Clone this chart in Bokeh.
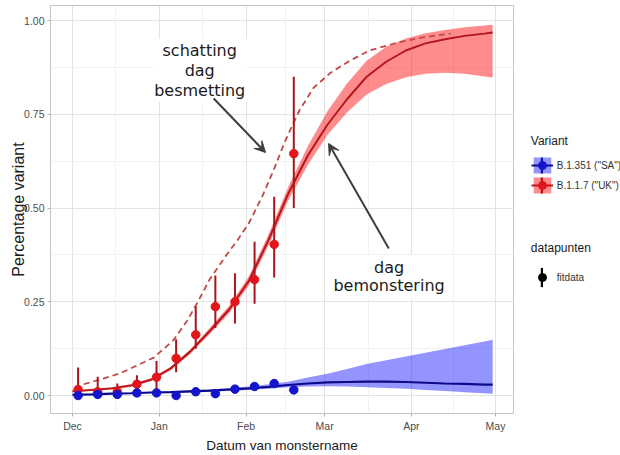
import numpy as np
import pandas as pd
from bokeh.plotting import figure
from bokeh.layouts import row
from bokeh.models import (Range1d, FixedTicker, Legend, LegendItem, Label, Arrow,
                          VeeHead, NumeralTickFormatter)
from bokeh.embed import file_html
from bokeh.resources import INLINE

# ---- observed weekly data points ----
obs_dates = ["2020-12-03", "2020-12-10", "2020-12-17", "2020-12-24", "2020-12-31",
             "2021-01-07", "2021-01-14", "2021-01-21", "2021-01-28", "2021-02-04",
             "2021-02-11", "2021-02-18"]
uk_obs = [0.016, 0.010, 0.010, 0.030, 0.049, 0.099, 0.162, 0.237, 0.250, 0.309, 0.403, 0.645]
uk_low = [0.000, 0.000, 0.000, 0.012, 0.015, 0.062, 0.125, 0.180, 0.192, 0.245, 0.315, 0.500]
uk_high = [0.075, 0.050, 0.032, 0.054, 0.092, 0.150, 0.238, 0.320, 0.326, 0.410, 0.530, 0.850]
sa_obs = [0.000, 0.003, 0.003, 0.007, 0.007, 0.000, 0.010, 0.005, 0.017, 0.024, 0.032, 0.015]
sa_low = [0.000, 0.000, 0.000, 0.003, 0.003, 0.000, 0.004, 0.001, 0.011, 0.018, 0.025, 0.008]
sa_high = [0.004, 0.007, 0.007, 0.011, 0.012, 0.004, 0.021, 0.010, 0.024, 0.031, 0.042, 0.022]

# ---- fitted curves (date of sampling) ----
fit_dates = ["2020-12-01", "2020-12-08", "2020-12-15", "2020-12-22", "2020-12-29",
             "2021-01-05", "2021-01-12", "2021-01-19", "2021-01-26", "2021-02-02",
             "2021-02-09", "2021-02-16", "2021-02-23", "2021-03-02", "2021-03-09",
             "2021-03-16", "2021-03-23", "2021-03-30", "2021-04-06", "2021-04-13",
             "2021-04-20", "2021-04-27", "2021-04-30"]
uk_fit = [0.011, 0.015, 0.019, 0.027, 0.042, 0.072, 0.117, 0.172, 0.230, 0.306, 0.415, 0.538,
          0.640, 0.722, 0.790, 0.850, 0.890, 0.920, 0.939, 0.950, 0.959, 0.965, 0.968]
uk_fit_low = [0.009, 0.012, 0.016, 0.023, 0.038, 0.067, 0.111, 0.164, 0.220, 0.294, 0.400, 0.520,
              0.615, 0.695, 0.755, 0.803, 0.831, 0.849, 0.858, 0.861, 0.858, 0.851, 0.848]
uk_fit_high = [0.013, 0.018, 0.022, 0.031, 0.046, 0.077, 0.123, 0.180, 0.240, 0.318, 0.430, 0.556,
               0.665, 0.758, 0.832, 0.893, 0.930, 0.952, 0.966, 0.975, 0.982, 0.987, 0.989]
sa_fit = [0.002, 0.003, 0.005, 0.006, 0.008, 0.009, 0.011, 0.013, 0.016, 0.019, 0.023, 0.028,
          0.032, 0.035, 0.036, 0.037, 0.037, 0.036, 0.034, 0.032, 0.031, 0.029, 0.029]
sa_fit_low = [0.000, 0.001, 0.003, 0.004, 0.006, 0.007, 0.008, 0.010, 0.012, 0.015, 0.018, 0.022,
              0.024, 0.025, 0.024, 0.022, 0.020, 0.018, 0.015, 0.012, 0.009, 0.006, 0.005]
sa_fit_high = [0.004, 0.005, 0.007, 0.008, 0.010, 0.011, 0.014, 0.016, 0.020, 0.024, 0.030, 0.037,
               0.048, 0.058, 0.071, 0.084, 0.094, 0.104, 0.114, 0.124, 0.134, 0.144, 0.149]

# ---- estimated curve (date of infection) ----
inf_dates = ["2020-12-05", "2020-12-12", "2020-12-18", "2020-12-24", "2020-12-30",
             "2021-01-06", "2021-01-11", "2021-01-15", "2021-01-19", "2021-01-25",
             "2021-01-29", "2021-02-02", "2021-02-07", "2021-02-11", "2021-02-15",
             "2021-02-20", "2021-02-25", "2021-03-03", "2021-03-10", "2021-03-17",
             "2021-03-27", "2021-04-05", "2021-04-15"]
uk_inf = [0.030, 0.045, 0.059, 0.080, 0.101, 0.147, 0.200, 0.253, 0.310, 0.375, 0.415, 0.460,
          0.535, 0.605, 0.680, 0.760, 0.820, 0.860, 0.893, 0.920, 0.941, 0.955, 0.965]

# ---- ticks ----
month_ticks = ["2020-12-01", "2021-01-01", "2021-02-01", "2021-03-01", "2021-04-01", "2021-05-01"]
month_labels = ["Dec", "Jan", "Feb", "Mar", "Apr", "May"]
y_ticks = [0.0, 0.25, 0.5, 0.75, 1.0]
y_minor = [0.125, 0.375, 0.625, 0.875]

variant_labels = ['B.1.351 ("SA")', 'B.1.1.7 ("UK")']


def ms(d):
    return pd.Timestamp(d).value / 1e6


def dt(lst):
    return pd.to_datetime(lst)


LAB_FONT = "Liberation Sans"
TEXT_FONT = "DejaVu Sans"
DAY = 86400000

x_start = ms("2020-12-01") - 7.85 * DAY
x_end = ms("2021-05-01") + 6.43 * DAY

p = figure(width=514, height=455, x_axis_type="datetime",
           x_range=Range1d(x_start, x_end), y_range=Range1d(-0.048, 1.04),
           output_backend="svg", toolbar_location=None,
           min_border_left=50, min_border_right=1, min_border_top=5, min_border_bottom=42)
p.background_fill_color = "white"
p.border_fill_color = "white"
p.outline_line_color = "#c4c4c4"
p.outline_line_width = 1

major_ms = [ms(d) for d in month_ticks]
minor_ms = [(a + b) / 2 for a, b in zip(major_ms[:-1], major_ms[1:])]
xt = FixedTicker(ticks=major_ms, minor_ticks=minor_ms)
yt = FixedTicker(ticks=y_ticks, minor_ticks=y_minor)
p.xaxis.ticker = xt
p.yaxis.ticker = yt
p.xgrid.ticker = xt
p.ygrid.ticker = yt
p.xaxis.major_label_overrides = {int(m): lab for m, lab in zip(major_ms, month_labels)}
p.yaxis.formatter = NumeralTickFormatter(format="0.00")
for g in (p.xgrid, p.ygrid):
    g.grid_line_color = "#e3e3e3"
    g.grid_line_width = 1
    g.minor_grid_line_color = "#f2f2f2"
    g.minor_grid_line_width = 1
for ax in (p.xaxis, p.yaxis):
    ax.axis_line_color = None
    ax.major_tick_line_color = "#b3b3b3"
    ax.major_tick_out = 3
    ax.major_tick_in = 0
    ax.minor_tick_out = 0
    ax.minor_tick_in = 0
    ax.major_label_text_font = LAB_FONT
    ax.major_label_text_font_size = "10.5px"
    ax.major_label_text_color = "#4d4d4d"
    ax.axis_label_text_font = LAB_FONT
    ax.axis_label_text_font_style = "normal"
    ax.axis_label_text_color = "#1a1a1a"
p.xaxis.axis_label = "Datum van monstername"
p.yaxis.axis_label = "Percentage variant"
p.xaxis.axis_label_text_font_size = "13.5px"
p.yaxis.axis_label_text_font_size = "16px"
p.xaxis.major_label_standoff = 3
p.xaxis.axis_label_standoff = 3
p.yaxis.major_label_standoff = 3
p.yaxis.axis_label_standoff = -6

UK_BAND = "#ff0000"
SA_BAND = "#0000ff"
UK_LINE = "#b3161c"
SA_LINE = "#0b0b8a"
UK_PT = "#e3141a"
SA_PT = "#1414cc"
UK_ERR = "#a8161b"
SA_ERR = "#10109a"

fd = dt(fit_dates)
od = dt(obs_dates)

p.varea(x=fd, y1=uk_fit_low, y2=uk_fit_high, fill_color=UK_BAND, fill_alpha=0.45)
p.varea(x=fd, y1=sa_fit_low, y2=sa_fit_high, fill_color=SA_BAND, fill_alpha=0.42)
p.line(x=dt(inf_dates), y=uk_inf, line_color="#c24848", line_width=1.8, line_dash="6 4")
p.line(x=fd, y=uk_fit, line_color=UK_LINE, line_width=2)
p.line(x=fd, y=sa_fit, line_color=SA_LINE, line_width=2.2)
p.segment(x0=od, y0=uk_low, x1=od, y1=uk_high, line_color=UK_ERR, line_width=2)
p.segment(x0=od, y0=sa_low, x1=od, y1=sa_high, line_color=SA_ERR, line_width=2)
p.scatter(x=od, y=uk_obs, size=8.5, fill_color=UK_PT, line_color=UK_PT)
p.scatter(x=od, y=sa_obs, size=8.5, fill_color=SA_PT, line_color=SA_PT)

# annotations
p.add_layout(Label(x=ms("2021-01-15 10:00"), y=0.867, text="schatting\ndag\nbesmetting",
                   text_align="center", text_baseline="middle", text_font=TEXT_FONT,
                   text_font_size="16px", text_color="#1a1a1a", text_line_height=1.06,
                   background_fill_color="white", background_fill_alpha=1.0, padding=2))
p.add_layout(Label(x=ms("2021-03-24"), y=0.317, text="dag\nbemonstering",
                   text_align="center", text_baseline="middle", text_font=TEXT_FONT,
                   text_font_size="16px", text_color="#1a1a1a", text_line_height=0.97,
                   background_fill_color="white", background_fill_alpha=1.0, padding=3))
head = dict(size=11, fill_color="#3d3d3d", line_color="#3d3d3d", line_width=1)
p.add_layout(Arrow(end=VeeHead(**head),
                   x_start=ms("2021-01-20 10:00"), y_start=0.792,
                   x_end=ms("2021-02-07 22:00"), y_end=0.648,
                   line_color="#3d3d3d", line_width=2))
p.add_layout(Arrow(end=VeeHead(**head),
                   x_start=ms("2021-03-23 22:00"), y_start=0.392,
                   x_end=ms("2021-03-02 10:00"), y_end=0.672,
                   line_color="#3d3d3d", line_width=2))

# ---- legend panel (separate figure to the right) ----
q = figure(width=106, height=455, x_range=Range1d(0, 1), y_range=Range1d(0, 1),
           output_backend="svg", toolbar_location=None,
           x_axis_location=None, y_axis_location=None,
           min_border=0, min_border_left=0, min_border_right=0,
           min_border_top=0, min_border_bottom=0)
q.outline_line_color = None
q.grid.visible = False
q.background_fill_color = "white"
q.border_fill_color = "white"

# legend-key proxies: one point each, placed outside the visible range of q
ox, oy, oy2 = [-5.0, -4.0], [-5.0, -5.0], [-4.0, -4.0]


def band_k(c, a):
    return q.varea(x=ox, y1=oy, y2=oy2, fill_color=c, fill_alpha=a)


def line_k(c):
    return q.line(x=ox, y=oy, line_color=c, line_width=2)


def vbar_k(c):
    return q.quad(left=[-5.0], right=[-4.0], bottom=[-5.0], top=[-4.0],
                  fill_color=c, line_color=None)


def pt_k(c, s=8):
    return q.scatter(x=[-5.0], y=[-5.0], size=s, fill_color=c, line_color=c)


base = dict(background_fill_alpha=0, border_line_alpha=0, padding=0, margin=0, spacing=0,
            label_standoff=4,
            label_text_font=LAB_FONT, label_text_font_size="10px", label_text_color="#333333",
            title_text_font=LAB_FONT, title_text_font_size="12px",
            title_text_font_style="normal", title_text_color="#1a1a1a")

KX = 16.8           # left of the key column inside the legend panel
BX = KX + 11 - 1.5  # left of the narrow error-bar key column

# "Variant": squares + fit lines (visible texts)
legA = Legend(items=[LegendItem(label=variant_labels[0], renderers=[band_k(SA_BAND, 0.42), line_k(SA_LINE)]),
                     LegendItem(label=variant_labels[1], renderers=[band_k(UK_BAND, 0.45), line_k(UK_LINE)])],
              title="Variant", location=(KX, 218), title_standoff=7,
              glyph_width=22, glyph_height=20, **base)
# vertical error-bar keys (no texts; bottom-anchored so rows line up)
legB = Legend(items=[LegendItem(label="", renderers=[vbar_k(SA_ERR)]),
                     LegendItem(label="", renderers=[vbar_k(UK_ERR)])],
              location=(BX, 218), glyph_width=3, glyph_height=20, **base)
# point keys
legC = Legend(items=[LegendItem(label="", renderers=[pt_k(SA_PT)]),
                     LegendItem(label="", renderers=[pt_k(UK_PT)])],
              location=(KX, 218), glyph_width=22, glyph_height=20, **base)

# "datapunten"
legE = Legend(items=[LegendItem(label="", renderers=[vbar_k("black")])],
              location=(BX, 124), glyph_width=3, glyph_height=24, **base)
legD = Legend(items=[LegendItem(label="fitdata", renderers=[pt_k("black")])],
              title="datapunten", location=(KX, 126), title_standoff=12,
              glyph_width=22, glyph_height=20, **base)

for lg in (legA, legB, legC, legE, legD):
    q.add_layout(lg)

layout = row(p, q)
open("out.html", "w").write(file_html(layout, INLINE))
